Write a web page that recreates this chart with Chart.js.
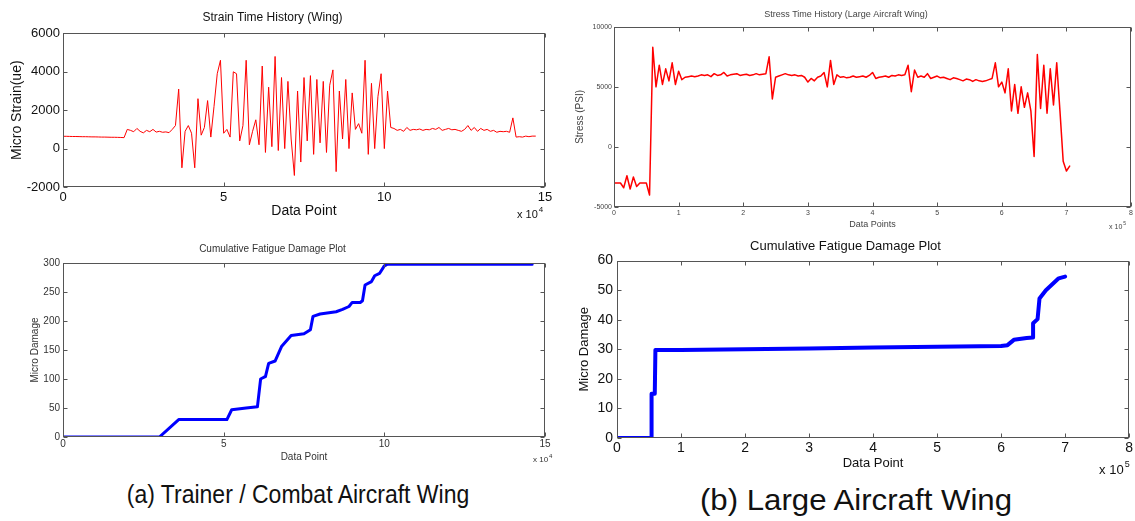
<!DOCTYPE html>
<html>
<head>
<meta charset="utf-8">
<script src="https://cdn.jsdelivr.net/npm/chart.js@4.4.1/dist/chart.umd.min.js"></script>
<style>
  html, body { margin: 0; padding: 0; background: #fff; }
  body { width: 1135px; height: 521px; position: relative; overflow: hidden; font-family: 'Liberation Sans', Arial, sans-serif; }
  canvas { position: absolute; }
  .caption { position: absolute; color: #111; white-space: nowrap; }
</style>
</head>
<body>
<canvas id="strainChart" width="560" height="230" style="left:0;top:0"></canvas>
<canvas id="stressChart" width="575" height="230" style="left:560px;top:0"></canvas>
<canvas id="damageAChart" width="560" height="240" style="left:0;top:230px"></canvas>
<canvas id="damageBChart" width="575" height="245" style="left:560px;top:230px"></canvas>
<div class="caption" style="left:298px;top:494px;font-size:25px;transform:translate(-50%,-50%) scaleX(0.92)">(a) Trainer / Combat Aircraft Wing</div>
<div class="caption" style="left:856px;top:500px;font-size:30px;transform:translate(-50%,-50%) scaleX(1.04)">(b) Large Aircraft Wing</div>
<script>
// strain history, one value every 1000 data points
const strainStep = 1000;
const strainValues = [
  640, 640, 635, 630, 630, 625, 620, 620, 615, 610, 610, 605, 600, 600, 595, 590, 590, 585, 580, 570,
  1000, 950, 880, 1050, 900, 820, 950, 880, 1000, 860, 900, 850, 870, 830, 1000,
  1200, 3100, -1000, 900, 1200, 800, -1000, 2600, 700, 1100, 2500, 600, 2200, 3900, 4600,
  800, 1000, 600, 4000, 3900, 400, 1200, 4600, 200, 900, 1500, 200, 4300, -200, 3200,
  100, 4800, -100, 3700, 0, 3500, 500, -1400, 3000, -700, 3700, 400, 3800, -300, 3600,
  300, 3500, -200, 3300, 4100, -1200, 3000, 500, 3600, 0, 2900, 1000, 1300, 800, 4600,
  -300, 3400, 0, 2700, 3900, 0, 3000, 1100,
  1050, 950, 1000, 900, 1100, 950, 1000, 980, 1020, 950, 1000, 980, 1050, 1000, 1100,
  950, 1000, 1050, 980, 1000, 950, 900, 1000, 1200, 950, 1100, 900, 1050, 950, 1000,
  900, 950, 850, 900, 880, 900, 850,
  1600, 600, 620, 600, 650, 620, 650, 650
];
const strainXTicks = [0, 5, 10, 15];
const strainYTicks = [-2000, 0, 2000, 4000, 6000];

// stress history, one value every 5000 data points
const stressStep = 5000;
const stressValues = [
  -3000, -3000, -3000, -3400, -2400, -3500, -2500, -3300, -3000, -3000, -3000, -4000,
  8300, 5000, 6800, 5200, 6500, 5500, 7000, 5200, 6300, 5600,
  5800, 5850, 5900, 5850, 5900, 6000, 5950, 6000, 5850, 6100, 5950, 6000, 6200,
  5900, 6000, 6050, 6100, 5950, 6000, 6050, 5950, 6000, 6100, 6000, 6050, 6100,
  7500, 4000, 5800,
  5900, 6000, 6100, 6000, 5950, 6000, 5900, 5950, 5800,
  5400, 5700, 5500, 5800, 5900, 6200, 5000, 7200, 5200, 6000,
  5800, 5850, 5750, 5800, 5900, 5800, 5850, 5900, 5800, 5950, 6200,
  5700, 5800, 5850, 5900, 5800, 5950, 5900, 6000, 5950, 6000,
  6800, 4600, 6400, 5800,
  5900, 5800, 6100, 5700, 5800, 5900, 5750, 5800, 5700, 5600, 5750,
  5700, 5600, 5500, 5650, 5600, 5450, 5600, 5500, 5450, 5500, 5600,
  5700, 7000, 5000, 5400, 4500, 6500, 3000, 5200, 2800, 5000, 3300, 4500, 3000,
  -800, 7700, 3200, 6800, 2800, 6500, 3500, 7000, 3000, -1200, -2000, -1600
];
const stressXTicks = [0, 1, 2, 3, 4, 5, 6, 7, 8];
const stressYTicks = [-5000, 0, 5000, 10000];

// cumulative damage, trainer wing (x in units of 10^4)
const damageAX = [0, 3.0, 3.6, 5.1, 5.25, 5.7, 6.05, 6.15, 6.25, 6.3, 6.4, 6.6, 6.8, 7.1, 7.5, 7.7,
  7.78, 8.0, 8.5, 8.7, 8.9, 9.0, 9.25, 9.32, 9.4, 9.6, 9.7, 9.85, 10.0, 10.1, 14.6];
const damageAY = [0, 0, 30, 30, 47, 50, 52, 100, 103, 104, 127, 131, 156, 175, 178, 185,
  208, 212, 216, 220, 225, 232, 232, 235, 262, 268, 278, 282, 295, 298, 298];
const damageAXTicks = [0, 5, 10, 15];
const damageAYTicks = [0, 50, 100, 150, 200, 250, 300];

// cumulative damage, large aircraft wing (x in units of 10^5)
const damageBX = [0, 0.54, 0.54, 0.59, 0.60, 1.0, 2.0, 3.0, 4.0, 5.0, 6.0, 6.1, 6.2, 6.4, 6.5,
  6.5, 6.57, 6.6, 6.7, 6.8, 6.9, 7.0];
const damageBY = [0, 0, 15, 15, 29.8, 29.8, 30.0, 30.3, 30.6, 30.9, 31.1, 31.4, 33.2, 33.8, 34,
  38.8, 40.2, 47.2, 50, 52, 54, 54.6];
const damageBXTicks = [0, 1, 2, 3, 4, 5, 6, 7, 8];
const damageBYTicks = [0, 10, 20, 30, 40, 50, 60];

Chart.defaults.font.family = "'Liberation Sans', Arial, sans-serif";
Chart.defaults.animation = false;

// matlab style box with inward ticks and the "x 10^n" multiplier
const matlabAxes = {
  id: 'matlabAxes',
  afterDatasetsDraw(chart, args, opts) {
    const { ctx, chartArea: a, scales: { x, y } } = chart;
    const L = Math.round(a.left) + 0.5, R = Math.round(a.right) - 0.5;
    const T = Math.round(a.top) + 0.5, B = Math.round(a.bottom) - 0.5;
    ctx.save();
    ctx.strokeStyle = opts.color;
    ctx.lineWidth = 1;
    ctx.beginPath();
    x.ticks.forEach(t => {
      const px = Math.round(x.getPixelForValue(t.value)) + 0.5;
      ctx.moveTo(px, B); ctx.lineTo(px, B - opts.tick);
      ctx.moveTo(px, T); ctx.lineTo(px, T + opts.tick);
    });
    y.ticks.forEach(t => {
      const py = Math.round(y.getPixelForValue(t.value)) + 0.5;
      ctx.moveTo(L, py); ctx.lineTo(L + opts.tick, py);
      ctx.moveTo(R, py); ctx.lineTo(R - opts.tick, py);
    });
    ctx.stroke();
    ctx.strokeRect(L, T, R - L, B - T);

    ctx.fillStyle = opts.textColor;
    ctx.textBaseline = 'middle';
    ctx.font = opts.expSize + "px 'Liberation Sans', Arial, sans-serif";
    const ex = a.right + opts.expDx, ey = a.bottom + opts.expDy;
    ctx.fillText('x 10', ex, ey);
    const w = ctx.measureText('x 10').width;
    ctx.font = Math.round(opts.expSize * 0.7) + "px 'Liberation Sans', Arial, sans-serif";
    ctx.fillText(opts.exp, ex + w + 1, ey - opts.expSize * 0.45);
    ctx.restore();
  }
};

function makeChart(id, cfg) {
  const fixedTicks = (list, mult) => s => { s.ticks = list.map(v => ({ value: v * mult })); };
  return new Chart(document.getElementById(id), {
    type: 'line',
    data: {
      datasets: [{
        data: cfg.points,
        borderColor: cfg.color,
        borderWidth: cfg.lineWidth,
        pointRadius: 0,
        tension: 0,
        borderJoinStyle: 'round',
        borderCapStyle: 'round'
      }]
    },
    options: {
      responsive: false,
      events: [],
      layout: { padding: { left: 0, right: cfg.padRight, top: 0, bottom: 0 } },
      plugins: {
        legend: { display: false },
        tooltip: { enabled: false },
        title: {
          display: true,
          text: cfg.title,
          color: cfg.textColor,
          font: { size: cfg.titleSize, weight: 'normal' },
          padding: { top: cfg.titleTop, bottom: cfg.titleBottom }
        },
        matlabAxes: {
          color: '#555', tick: cfg.tickLen, textColor: cfg.textColor,
          exp: cfg.exp, expSize: cfg.expSize, expDx: cfg.expDx, expDy: cfg.expDy
        }
      },
      scales: {
        x: {
          type: 'linear',
          min: cfg.xMin, max: cfg.xMax,
          afterBuildTicks: fixedTicks(cfg.xTicks, cfg.xMult),
          afterFit: s => { s.height = cfg.xAxisHeight; },
          grid: { display: false, drawTicks: false },
          border: { display: false },
          ticks: {
            autoSkip: false, maxRotation: 0, padding: cfg.xTickPad,
            color: cfg.textColor, font: { size: cfg.tickSize },
            callback: v => String(Math.round(v / cfg.xMult))
          },
          title: {
            display: true, text: cfg.xTitle, color: cfg.textColor,
            font: { size: cfg.xTitleSize }, padding: { top: 0, bottom: cfg.xTitleBottom }
          }
        },
        y: {
          type: 'linear',
          min: cfg.yMin, max: cfg.yMax,
          afterBuildTicks: fixedTicks(cfg.yTicks, 1),
          afterFit: s => { s.width = cfg.yAxisWidth; },
          grid: { display: false, drawTicks: false },
          border: { display: false },
          ticks: {
            autoSkip: false, padding: cfg.yTickPad,
            color: cfg.textColor, font: { size: cfg.tickSize },
            callback: v => String(v)
          },
          title: {
            display: true, text: cfg.yTitle, color: cfg.textColor,
            font: { size: cfg.yTitleSize }, padding: { top: cfg.yTitleTop, bottom: 0 }
          }
        }
      }
    },
    plugins: [matlabAxes]
  });
}

makeChart('strainChart', {
  points: strainValues.map((v, i) => ({ x: i * strainStep, y: v })),
  color: '#ff0000', lineWidth: 1,
  title: 'Strain Time History (Wing)', titleSize: 12, titleTop: 10, titleBottom: 9,
  textColor: '#111', padRight: 15,
  xMin: 0, xMax: 150000, xTicks: strainXTicks, xMult: 1e4,
  yMin: -2000, yMax: 6000, yTicks: strainYTicks,
  xAxisHeight: 43, yAxisWidth: 63, tickSize: 13, xTickPad: 3, yTickPad: 3,
  xTitle: 'Data Point', xTitleSize: 14, xTitleBottom: 10,
  yTitle: 'Micro Strain(ue)', yTitleSize: 14, yTitleTop: 9,
  tickLen: 4, exp: '4', expSize: 11, expDx: -28, expDy: 28
});

makeChart('stressChart', {
  points: stressValues.map((v, i) => ({ x: i * stressStep, y: v })),
  color: '#ff0000', lineWidth: 1.5,
  title: 'Stress Time History (Large Aircraft Wing)', titleSize: 9, titleTop: 9, titleBottom: 7,
  textColor: '#444', padRight: 3,
  xMin: 0, xMax: 800000, xTicks: stressXTicks, xMult: 1e5,
  yMin: -5000, yMax: 10000, yTicks: stressYTicks,
  xAxisHeight: 23, yAxisWidth: 54, tickSize: 7, xTickPad: 2, yTickPad: 2,
  xTitle: 'Data Points', xTitleSize: 9, xTitleBottom: 0,
  yTitle: 'Stress (PSI)', yTitleSize: 10, yTitleTop: 14,
  tickLen: 4, exp: '5', expSize: 7, expDx: -22, expDy: 20
});

makeChart('damageAChart', {
  points: damageAX.map((v, i) => ({ x: v * 1e4, y: damageAY[i] })),
  color: '#0000ff', lineWidth: 3,
  title: 'Cumulative Fatigue Damage Plot', titleSize: 10, titleTop: 13, titleBottom: 8,
  textColor: '#333', padRight: 15,
  xMin: 0, xMax: 150000, xTicks: damageAXTicks, xMult: 1e4,
  yMin: 0, yMax: 300, yTicks: damageAYTicks,
  xAxisHeight: 33, yAxisWidth: 63, tickSize: 10, xTickPad: 1, yTickPad: 3,
  xTitle: 'Data Point', xTitleSize: 10, xTitleBottom: 7,
  yTitle: 'Micro Damage', yTitleSize: 10, yTitleTop: 29,
  tickLen: 4, exp: '4', expSize: 8, expDx: -12, expDy: 23
});

makeChart('damageBChart', {
  points: damageBX.map((v, i) => ({ x: v * 1e5, y: damageBY[i] })),
  color: '#0000ff', lineWidth: 4,
  title: 'Cumulative Fatigue Damage Plot', titleSize: 13, titleTop: 9, titleBottom: 6,
  textColor: '#111', padRight: 4,
  xMin: 0, xMax: 800000, xTicks: damageBXTicks, xMult: 1e5,
  yMin: 0, yMax: 60, yTicks: damageBYTicks,
  xAxisHeight: 37, yAxisWidth: 57, tickSize: 14, xTickPad: 2, yTickPad: 4,
  xTitle: 'Data Point', xTitleSize: 13, xTitleBottom: 4,
  yTitle: 'Micro Damage', yTitleSize: 13, yTitleTop: 17,
  tickLen: 4, exp: '5', expSize: 13, expDx: -30, expDy: 32
});
</script>
</body>
</html>
